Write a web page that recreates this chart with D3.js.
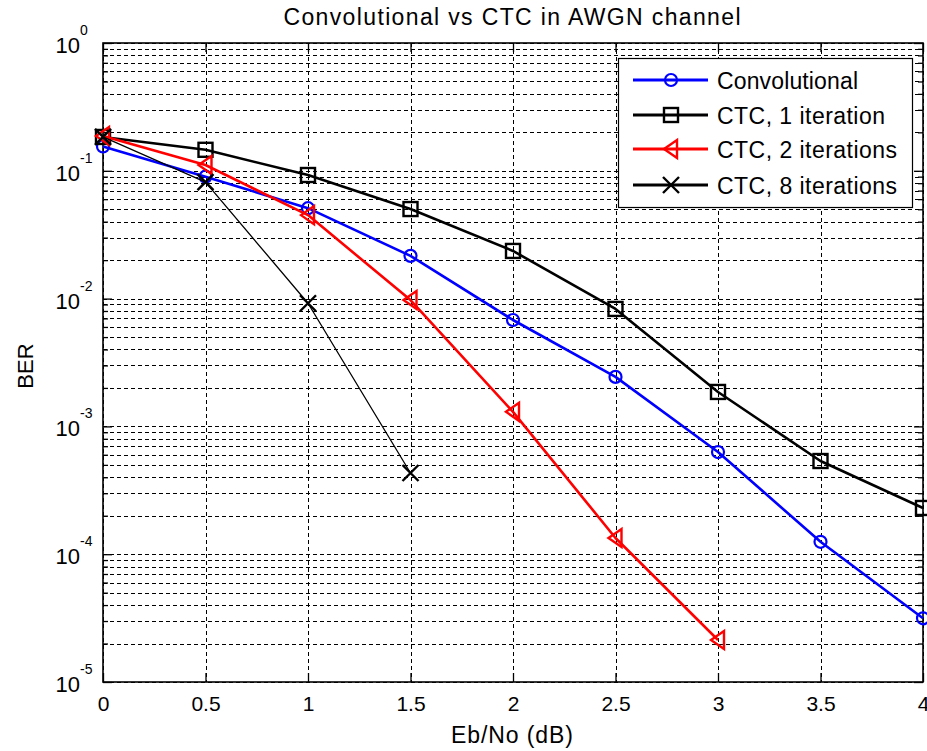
<!DOCTYPE html>
<html>
<head>
<meta charset="utf-8">
<script src="https://cdn.jsdelivr.net/npm/d3@7"></script>
<style>
  html, body { margin: 0; padding: 0; background: #fff; }
  svg { display: block; }
  text { font-family: "Liberation Sans", Arial, sans-serif; fill: #000; }
</style>
</head>
<body>
<svg id="chart" width="927" height="751"></svg>
<script>
// ---- data ----
const ebno = [0, 0.5, 1, 1.5, 2, 2.5, 3, 3.5, 4];
const convolutional = [0.155, 0.09, 0.051, 0.0216, 0.0068, 0.00244, 6.3e-4, 1.25e-4, 3.15e-5];
const ctc1 = [0.184, 0.146, 0.0927, 0.0502, 0.0236, 0.0083, 0.00186, 5.36e-4, 2.3e-4];
const ctc2 = [0.187, 0.111, 0.045, 0.00975, 0.0013, 1.34e-4, 2.13e-5];
const ctc8 = [0.184, 0.0816, 0.0092, 4.32e-4];
const seriesNames = ["Convolutional", "CTC, 1 iteration", "CTC, 2 iterations", "CTC, 8 iterations"];
const xTickValues = [0, 0.5, 1, 1.5, 2, 2.5, 3, 3.5, 4];
const xTickLabels = ["0", "0.5", "1", "1.5", "2", "2.5", "3", "3.5", "4"];
const yDecadeExponents = [0, -1, -2, -3, -4, -5];
const titleText = "Convolutional vs CTC in AWGN channel";
const xLabelText = "Eb/No (dB)";
const yLabelText = "BER";

// ---- layout ----
const svg = d3.select("#chart");
const L = 103, R = 923, T = 43, B = 682;
const x = d3.scaleLinear().domain([0, 4]).range([L, R]);
const y = d3.scaleLog().domain([1e-5, 1]).range([B, T]);

const majorY = yDecadeExponents.map(e => Math.pow(10, e));
const minorY = [];
yDecadeExponents.slice(1).forEach(e => {
  for (let k = 2; k <= 9; k++) minorY.push(k * Math.pow(10, e));
});

// ---- grid ----
const grid = svg.append("g").attr("stroke", "#000").attr("stroke-width", 1)
  .attr("stroke-dasharray", "4,3").attr("shape-rendering", "crispEdges");
majorY.concat(minorY).forEach(v => {
  grid.append("line").attr("x1", L).attr("x2", R)
    .attr("y1", Math.round(y(v)) + 0.5).attr("y2", Math.round(y(v)) + 0.5);
});
xTickValues.forEach(v => {
  grid.append("line").attr("y1", T).attr("y2", B)
    .attr("x1", Math.round(x(v)) + 0.5).attr("x2", Math.round(x(v)) + 0.5);
});

// ---- axes (inward ticks on all sides) ----
const fmtX = (d, i) => xTickLabels[i];
const axB = svg.append("g").attr("transform", `translate(0,${B})`)
  .call(d3.axisBottom(x).tickValues(xTickValues).tickSize(-9).tickFormat(fmtX));
const axT = svg.append("g").attr("transform", `translate(0,${T})`)
  .call(d3.axisTop(x).tickValues(xTickValues).tickSize(-9).tickFormat(""));
const axL = svg.append("g").attr("transform", `translate(${L},0)`)
  .call(d3.axisLeft(y).tickValues(majorY).tickSize(-9).tickFormat(""));
const axR = svg.append("g").attr("transform", `translate(${R},0)`)
  .call(d3.axisRight(y).tickValues(majorY).tickSize(-9).tickFormat(""));
const axLm = svg.append("g").attr("transform", `translate(${L},0)`)
  .call(d3.axisLeft(y).tickValues(minorY).tickSize(-5).tickFormat(""));
const axRm = svg.append("g").attr("transform", `translate(${R},0)`)
  .call(d3.axisRight(y).tickValues(minorY).tickSize(-5).tickFormat(""));
[axB, axT, axL, axR, axLm, axRm].forEach(a => {
  a.select(".domain").remove();
  a.selectAll(".tick line").attr("stroke", "#000").attr("stroke-width", 1.3);
});
axB.selectAll(".tick text").attr("font-size", 21).attr("dy", null).attr("y", 29)
  .style("font-family", "Liberation Sans, Arial, sans-serif").attr("fill", "#000");

// y tick labels 10^e
const yl = svg.append("g");
yDecadeExponents.forEach(e => {
  const yy = y(Math.pow(10, e));
  yl.append("text").attr("x", 80).attr("y", yy + 10).attr("text-anchor", "end")
    .attr("font-size", 22).text("10");
  yl.append("text").attr("x", 80).attr("y", yy - 8).attr("text-anchor", "start")
    .attr("font-size", 14).text(String(e));
});

// box
svg.append("rect").attr("x", L).attr("y", T).attr("width", R - L).attr("height", B - T)
  .attr("fill", "none").attr("stroke", "#000").attr("stroke-width", 1.6);

// ---- series ----
const circleSym = (g, cx, cy, col) => g.append("circle").attr("cx", cx).attr("cy", cy).attr("r", 6)
  .attr("fill", "none").attr("stroke", col).attr("stroke-width", 2.2);
const squareSym = (g, cx, cy, col) => g.append("rect").attr("x", cx - 7).attr("y", cy - 7)
  .attr("width", 14).attr("height", 14).attr("fill", "none").attr("stroke", col).attr("stroke-width", 2.4);
const triSym = (g, cx, cy, col) => g.append("path")
  .attr("d", `M${cx - 7},${cy} L${cx + 6},${cy - 9} L${cx + 6},${cy + 9} Z`)
  .attr("fill", "none").attr("stroke", col).attr("stroke-width", 2.4).attr("stroke-linejoin", "miter");
const xSym = (g, cx, cy, col) => g.append("path")
  .attr("d", `M${cx - 8},${cy - 8} L${cx + 8},${cy + 8} M${cx - 8},${cy + 8} L${cx + 8},${cy - 8}`)
  .attr("fill", "none").attr("stroke", col).attr("stroke-width", 2.4);

const series = [
  { name: seriesNames[0], values: convolutional, color: "#0000ff", width: 2.6, sym: circleSym },
  { name: seriesNames[1], values: ctc1, color: "#000000", width: 2.6, sym: squareSym },
  { name: seriesNames[2], values: ctc2, color: "#ff0000", width: 2.6, sym: triSym },
  { name: seriesNames[3], values: ctc8, color: "#000000", width: 1.3, sym: xSym }
];

const line = d3.line().x(d => x(d[0])).y(d => y(d[1]));
series.forEach(s => {
  const pts = s.values.map((v, i) => [ebno[i], v]);
  const g = svg.append("g");
  g.append("path").attr("d", line(pts)).attr("fill", "none").attr("stroke", s.color)
    .attr("stroke-width", s.width).attr("stroke-linejoin", "round");
  pts.forEach(p => s.sym(g, x(p[0]), y(p[1]), s.color));
});

// ---- legend ----
const lg = svg.append("g");
lg.append("rect").attr("x", 618.5).attr("y", 58.5).attr("width", 294).attr("height", 149)
  .attr("fill", "#fff").attr("stroke", "#000").attr("stroke-width", 1.2);
const rowY = [80, 115, 149, 185];
const legendTextWidths = [141, 168, 180, 180];
series.forEach((s, i) => {
  lg.append("line").attr("x1", 633).attr("x2", 708).attr("y1", rowY[i]).attr("y2", rowY[i])
    .attr("stroke", s.color).attr("stroke-width", 3);
  s.sym(lg, 671, rowY[i], s.color);
  lg.append("text").attr("x", 717).attr("y", rowY[i] + 9).attr("font-size", 23)
    .attr("textLength", legendTextWidths[i]).attr("lengthAdjust", "spacing").text(s.name);
});

// ---- titles ----
svg.append("text").attr("x", 512).attr("y", 25).attr("text-anchor", "middle")
  .attr("font-size", 23).attr("textLength", 457).attr("lengthAdjust", "spacing").text(titleText);
svg.append("text").attr("x", 512).attr("y", 743).attr("text-anchor", "middle")
  .attr("font-size", 23).attr("textLength", 122).attr("lengthAdjust", "spacing").text(xLabelText);
svg.append("text").attr("transform", "translate(33,366) rotate(-90)").attr("text-anchor", "middle")
  .attr("font-size", 22).text(yLabelText);
</script>
</body>
</html>
